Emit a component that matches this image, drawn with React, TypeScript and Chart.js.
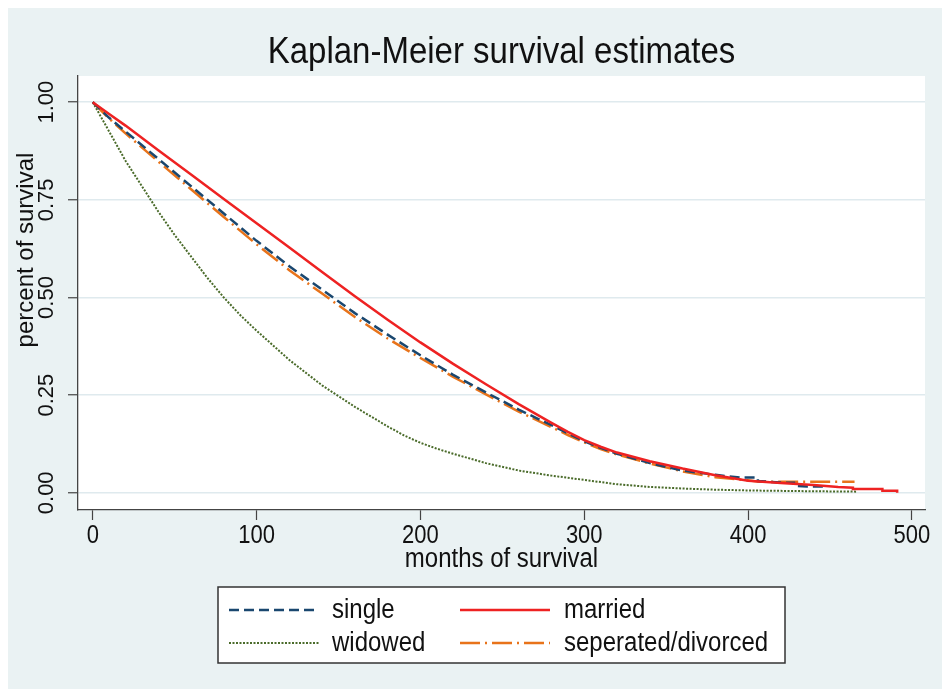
import React, { useEffect, useRef } from "react";
import { Chart, registerables } from "chart.js";
Chart.register(...registerables);

const titleText = "Kaplan-Meier survival estimates";
const xTitle = "months of survival";
const yTitle = "percent of survival";
const xTicks = [0, 100, 200, 300, 400, 500];
const xTickLabels = ["0", "100", "200", "300", "400", "500"];
const yTicks = [0, 0.25, 0.5, 0.75, 1];
const yTickLabels = ["0.00", "0.25", "0.50", "0.75", "1.00"];
const seriesLabels = ["single", "married", "widowed", "seperated/divorced"];

const singleMonths = [0, 10, 20, 40, 60, 80, 100, 120, 140, 160, 180, 200, 220, 240, 260, 280, 290, 300, 310, 320, 340, 360, 380, 395, 406, 406, 421, 428, 428, 436, 446, 446];
const singleSurv = [1, 0.96, 0.925, 0.855, 0.785, 0.715, 0.645, 0.58, 0.52, 0.46, 0.405, 0.352, 0.302, 0.257, 0.213, 0.173, 0.152, 0.132, 0.115, 0.1, 0.076, 0.057, 0.046, 0.039, 0.039, 0.03, 0.026, 0.026, 0.018, 0.016, 0.016, 0.012];

const marriedMonths = [0, 10, 20, 40, 60, 80, 100, 120, 140, 160, 180, 200, 220, 240, 260, 280, 290, 300, 310, 320, 340, 360, 380, 400, 420, 440, 455, 464, 464, 482, 482, 491, 491];
const marriedSurv = [1, 0.97, 0.94, 0.877, 0.815, 0.752, 0.69, 0.628, 0.565, 0.503, 0.443, 0.385, 0.33, 0.278, 0.227, 0.179, 0.156, 0.135, 0.118, 0.103, 0.081, 0.062, 0.045, 0.031, 0.025, 0.02, 0.015, 0.013, 0.01, 0.01, 0.005, 0.005, 0.0];

const widowedMonths = [0, 10, 20, 30, 40, 50, 60, 70, 80, 90, 100, 120, 140, 160, 180, 190, 200, 210, 220, 240, 260, 280, 300, 320, 340, 360, 380, 400, 420, 440, 466];
const widowedSurv = [1, 0.925, 0.85, 0.785, 0.72, 0.66, 0.605, 0.55, 0.5, 0.455, 0.415, 0.34, 0.275, 0.22, 0.17, 0.147, 0.128, 0.113, 0.1, 0.076, 0.057, 0.044, 0.033, 0.022, 0.015, 0.011, 0.008, 0.006, 0.005, 0.004, 0.003];

const separatedMonths = [0, 10, 20, 40, 60, 80, 100, 120, 140, 160, 180, 200, 220, 240, 260, 280, 290, 300, 310, 320, 340, 360, 380, 400, 407, 465];
const separatedSurv = [1, 0.958, 0.92, 0.848, 0.777, 0.706, 0.636, 0.57, 0.51, 0.45, 0.395, 0.345, 0.297, 0.252, 0.208, 0.168, 0.148, 0.129, 0.112, 0.098, 0.075, 0.055, 0.04, 0.032, 0.028, 0.028];

const FONT = '"Liberation Sans", Arial, sans-serif';
const BG = "#eaf2f3";
const TEXT = "#111111";
const AXIS = "#444444";
const STRETCH = 1.14;

function pts(xs: number[], ys: number[]) {
  return xs.map((x, i) => ({ x, y: ys[i] }));
}

function hText(ctx: any, t: string, x: number, y: number) {
  ctx.save();
  ctx.translate(x, y);
  ctx.scale(1, STRETCH);
  ctx.fillText(t, 0, 0);
  ctx.restore();
}

const decor = {
  id: "decor",
  beforeDraw(chart: any) {
    const { ctx, chartArea: a, width, height } = chart;
    ctx.save();
    ctx.fillStyle = BG;
    ctx.fillRect(0, 0, width, height);
    ctx.fillStyle = "#ffffff";
    ctx.fillRect(a.left, a.top, a.right - a.left, a.bottom - a.top);
    ctx.restore();
  },
  afterDraw(chart: any) {
    const { ctx, chartArea: a } = chart;
    const xs = chart.scales.x;
    const ys = chart.scales.y;
    ctx.save();
    ctx.fillStyle = TEXT;
    ctx.textAlign = "center";
    ctx.textBaseline = "middle";
    // title
    ctx.font = `33px ${FONT}`;
    hText(ctx, titleText, (a.left + a.right) / 2, 45);
    // x tick labels
    ctx.font = `22px ${FONT}`;
    xTicks.forEach((v, i) => {
      hText(ctx, xTickLabels[i], xs.getPixelForValue(v), 528);
    });
    // x title
    ctx.font = `24px ${FONT}`;
    hText(ctx, xTitle, (a.left + a.right) / 2, 551);
    // y tick labels rotated
    ctx.font = `22px ${FONT}`;
    yTicks.forEach((v, i) => {
      ctx.save();
      ctx.translate(39, ys.getPixelForValue(v));
      ctx.rotate(-Math.PI / 2);
      ctx.fillText(yTickLabels[i], 0, 0);
      ctx.restore();
    });
    // y title
    ctx.save();
    ctx.font = `24px ${FONT}`;
    ctx.translate(18, 242);
    ctx.rotate(-Math.PI / 2);
    ctx.fillText(yTitle, 0, 0);
    ctx.restore();
    // legend
    const L = 210, T = 579, R = 777, B = 655;
    ctx.fillStyle = "#ffffff";
    ctx.fillRect(L, T, R - L, B - T);
    ctx.strokeStyle = "#333333";
    ctx.lineWidth = 1.5;
    ctx.strokeRect(L, T, R - L, B - T);
    const cols = [{ x0: 221, x1: 311, tx: 324 }, { x0: 452, x1: 542, tx: 556 }];
    const rows = [602, 635];
    chart.data.datasets.forEach((ds: any, i: number) => {
      const c = cols[i % 2];
      const r = rows[Math.floor(i / 2)];
      ctx.save();
      ctx.strokeStyle = ds.borderColor;
      ctx.lineWidth = ds.borderWidth;
      ctx.setLineDash(ds.borderDash || []);
      ctx.beginPath();
      ctx.moveTo(c.x0, r);
      ctx.lineTo(c.x1, r);
      ctx.stroke();
      ctx.restore();
      ctx.fillStyle = TEXT;
      ctx.font = `24px ${FONT}`;
      ctx.textAlign = "left";
      ctx.textBaseline = "middle";
      hText(ctx, ds.label, c.tx, r);
    });
    ctx.restore();
  },
};

export default function App() {
  const ref = useRef<HTMLCanvasElement | null>(null);
  useEffect(() => {
    if (!ref.current) return;
    const chart = new Chart(ref.current, {
      type: "line",
      data: {
        datasets: [
          {
            label: seriesLabels[0],
            data: pts(singleMonths, singleSurv),
            borderColor: "#1a476f",
            borderWidth: 2.5,
            borderDash: [10, 5],
            pointRadius: 0,
            fill: false,
            order: 2,
          },
          {
            label: seriesLabels[1],
            data: pts(marriedMonths, marriedSurv),
            borderColor: "#ee2222",
            borderWidth: 2.5,
            pointRadius: 0,
            fill: false,
            order: 1,
          },
          {
            label: seriesLabels[2],
            data: pts(widowedMonths, widowedSurv),
            borderColor: "#4a6b2a",
            borderWidth: 2,
            borderDash: [2, 1.5],
            pointRadius: 0,
            fill: false,
            order: 4,
          },
          {
            label: seriesLabels[3],
            data: pts(separatedMonths, separatedSurv),
            borderColor: "#e8731a",
            borderWidth: 2.5,
            borderDash: [20, 5, 2, 5],
            pointRadius: 0,
            fill: false,
            order: 3,
          },
        ],
      } as any,
      options: {
        animation: false,
        responsive: false,
        devicePixelRatio: 1,
        layout: { padding: { top: 68, right: 17, left: 0, bottom: 0 } },
        plugins: { legend: { display: false }, title: { display: false }, tooltip: { enabled: false } },
        scales: {
          x: {
            type: "linear",
            min: -9,
            max: 508,
            afterBuildTicks: (s: any) => { s.ticks = xTicks.map((v) => ({ value: v })); },
            afterFit: (s: any) => { s.height = 179; },
            ticks: { display: false },
            grid: { drawOnChartArea: false, drawTicks: true, tickLength: 10, color: AXIS, tickWidth: 1.2 },
            border: { display: true, color: AXIS, width: 1.3 },
          },
          y: {
            type: "linear",
            min: -0.044,
            max: 1.067,
            afterBuildTicks: (s: any) => { s.ticks = yTicks.map((v) => ({ value: v })); },
            afterFit: (s: any) => { s.width = 70; },
            ticks: { display: false },
            grid: { drawOnChartArea: true, drawTicks: true, tickLength: 10, color: "#dfeaee", tickColor: AXIS, tickWidth: 1.2, lineWidth: 1.5 },
            border: { display: true, color: AXIS, width: 1.3 },
          },
        },
      } as any,
      plugins: [decor],
    });
    return () => chart.destroy();
  }, []);
  return (
    <div style={{ position: "absolute", left: 8, top: 8, width: 934, height: 681 }}>
      <canvas ref={ref} width={934} height={681} style={{ display: "block", width: 934, height: 681 }} />
    </div>
  );
}
